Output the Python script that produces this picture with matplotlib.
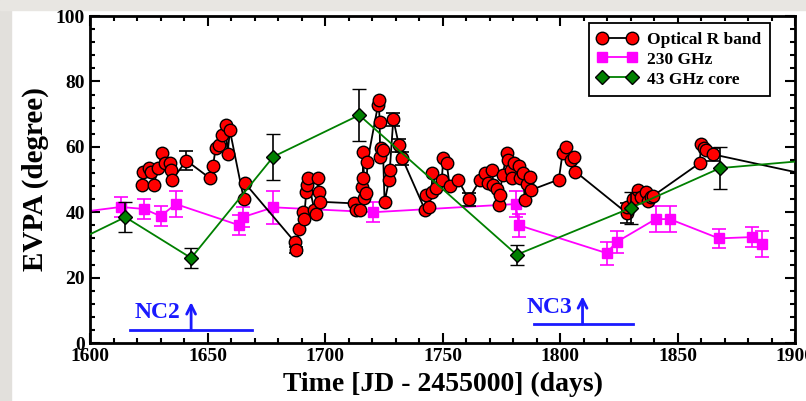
import numpy as np
import matplotlib
matplotlib.use('Agg')
import matplotlib.pyplot as plt
from matplotlib.ticker import MultipleLocator
from matplotlib.patches import Rectangle
from matplotlib.lines import Line2D

# Optical R band EVPA
opt_t = [1622, 1622.5, 1625, 1626, 1627, 1629, 1630.6, 1632, 1634, 1634.5, 1635,
         1641, 1651, 1652.3, 1653.4, 1654.8, 1656.3, 1657.7, 1658.5, 1659.5,
         1665.4, 1666, 1687, 1687.6, 1689, 1690.5, 1691, 1692, 1692.3, 1692.6,
         1695.4, 1696, 1697, 1697.5, 1698, 1712.5, 1713, 1714.7, 1715.7, 1716,
         1716.3, 1716.6, 1717.5, 1718, 1722.5, 1722.8, 1723.2, 1723.4, 1723.6,
         1724.6, 1725.3, 1727.2, 1727.5, 1729, 1731.4, 1732.8, 1742.5, 1743,
         1744, 1745.3, 1745.6, 1747, 1749.6, 1750.3, 1751.7, 1753, 1756.7,
         1761, 1766, 1768, 1769.5, 1771, 1771.6, 1773, 1773.8, 1774.2, 1775.5,
         1777.4, 1778, 1779, 1779.5, 1780.5, 1782.3, 1783, 1784, 1785, 1786,
         1787.3, 1787.6, 1799.4, 1801, 1802.6, 1804.4, 1805.8, 1806.5, 1828.4,
         1828.6, 1831, 1833, 1834.3, 1836.5, 1837.5, 1838.6, 1839.5, 1859.3,
         1860, 1861, 1862, 1865, 1905]
opt_evpa = [48.3, 52.4, 53.4, 52.4, 48.3, 53.4, 58, 55, 55, 52.8, 50,
            55.8, 50.4, 54, 59.5, 60.6, 63.6, 66.7, 57.8, 65,
            44, 48.8, 31, 28.4, 35, 40.2, 37.8, 46.3, 48.3, 50.4,
            40.7, 39.4, 50.4, 46.3, 43.2, 42.7, 40.7, 40.7, 47.8, 50.4,
            58.5, 44.2, 45.8, 55.5, 72.8, 74.3, 67.7, 57, 59.5,
            59, 43.2, 49.8, 52.9, 68.4, 60.5, 56.5, 40.7, 45.3,
            41.7, 46.3, 51.9, 47.5, 49.8, 56.5, 55, 48, 49.8,
            43.9, 50, 51.9, 49, 52.9, 48.3, 47, 42.2, 45.3, 51.5,
            58, 56, 53, 50.4, 55, 54, 50.4, 52, 43.7, 48.5,
            50.9, 46.8, 50, 58, 60, 56, 57, 52.4, 39.7,
            41.7, 44, 46.8, 44.7, 46.3, 43.5, 44.7, 45, 55,
            61, 59.5, 59, 57.7, 51.5]
# points that carry a visible error bar
opt_err_t = [1641, 1687.6, 1729, 1731.4, 1732.8, 1761, 1828.4, 1865]
opt_err_y = [55.8, 28.4, 68.4, 60.5, 56.5, 43.9, 39.7, 57.7]
opt_err = [3, 1, 2, 2, 2, 2, 3, 2]

# 230 GHz EVPA
mm_t = [1590, 1613, 1623, 1630, 1636.5, 1663.5, 1665, 1678, 1720.5, 1781,
        1782.5, 1819.7, 1824, 1840.6, 1846.6, 1867.5, 1881.6, 1886]
mm_evpa = [39.5, 41.6, 41, 38.8, 42.5, 36, 38.5, 41.5, 40, 42.5,
           36, 27.5, 30.9, 37.9, 37.9, 32, 32.4, 30.3]
mm_err = [3, 3, 3, 3, 4, 3, 3, 5, 3, 4, 3.5, 3.5, 3.5, 4, 4, 3, 3, 4]

# 43 GHz core EVPA
core_t = [1585, 1615, 1643, 1678, 1714.5, 1781.5, 1830, 1868, 1905]
core_evpa = [28, 38.5, 26, 57, 69.7, 27, 41.3, 53.5, 55.8]
core_err = [0, 4.5, 3, 7, 8, 3, 5, 6.5, 0]

# new components: label, ejection time, line range, height
nc_labels = ['NC2', 'NC3']
nc_time = [1643, 1809.5]
nc_lo = [1617, 1789]
nc_hi = [1669, 1831]
nc_y = [4, 5.8]


def main():
    plt.rcParams['font.family'] = ['Liberation Serif', 'DejaVu Serif']
    plt.rcParams['font.weight'] = 'bold'

    fig = plt.figure(figsize=(8.06, 4.01), dpi=100)
    fig.patches.append(Rectangle((0, 0), 0.014, 1, transform=fig.transFigure,
                                 color='#e2e0dc', zorder=-1))
    fig.patches.append(Rectangle((0, 0.975), 1, 0.025, transform=fig.transFigure,
                                 color='#e8e6e2', zorder=-1))
    ax = fig.add_axes([0.1117, 0.1446, 0.875, 0.8154])

    # 230 GHz
    ax.errorbar(mm_t, mm_evpa, yerr=mm_err, color='magenta', ecolor='magenta',
                marker='s', ms=6.5, mfc='magenta', mec='magenta', lw=1.3,
                elinewidth=1.2, capsize=5, capthick=1.2, zorder=2)

    # optical
    ax.errorbar(opt_err_t, opt_err_y, yerr=opt_err, fmt='none', ecolor='black',
                elinewidth=1.2, capsize=5, capthick=1.2, zorder=2.5)
    ax.plot(opt_t, opt_evpa, color='black', lw=1.3, marker='o', ms=9,
            mfc='red', mec='black', mew=1.0, zorder=3)

    # 43 GHz core
    ax.errorbar(core_t, core_evpa, yerr=core_err, color='green', ecolor='black',
                marker='D', ms=7.5, mfc='green', mec='black', mew=1.0, lw=1.3,
                elinewidth=1.2, capsize=5, capthick=1.2, zorder=4)

    for lab, t, lo, hi, y in zip(nc_labels, nc_time, nc_lo, nc_hi, nc_y):
        ax.plot([lo, hi], [y, y], color='#1a1aff', lw=2, zorder=5)
        ax.annotate('', xy=(t, y + 8.5), xytext=(t, y),
                    arrowprops=dict(arrowstyle='->', color='#1a1aff', lw=2,
                                    mutation_scale=16, shrinkA=0, shrinkB=0),
                    zorder=5)
        ax.text(t - 4.5, y + 2.0, lab, color='#1a1aff', fontsize=17,
                fontweight='bold', ha='right', va='bottom')

    ax.set_xlim(1600, 1900)
    ax.set_ylim(0, 100)
    ax.xaxis.set_major_locator(MultipleLocator(50))
    ax.xaxis.set_minor_locator(MultipleLocator(10))
    ax.yaxis.set_major_locator(MultipleLocator(20))
    ax.yaxis.set_minor_locator(MultipleLocator(4))
    ax.tick_params(which='both', direction='in', top=True, right=True,
                   labelsize=14, width=1.5)
    ax.tick_params(which='major', length=7)
    ax.tick_params(which='minor', length=3.5)
    for s in ax.spines.values():
        s.set_linewidth(2)

    ax.set_xlabel('Time [JD - 2455000] (days)', fontsize=20, fontweight='bold',
                  labelpad=5)
    ax.set_ylabel('EVPA (degree)', fontsize=21, fontweight='bold', labelpad=5)

    handles = [
        Line2D([], [], color='black', lw=1.3, marker='o', ms=9, mfc='red',
               mec='black', mew=1.0),
        Line2D([], [], color='magenta', lw=1.3, marker='s', ms=6.5,
               mfc='magenta', mec='magenta'),
        Line2D([], [], color='green', lw=1.3, marker='D', ms=7.5, mfc='green',
               mec='black', mew=1.0),
    ]
    labels = ['Optical R band', '230 GHz', '43 GHz core']
    leg = ax.legend(handles, labels, loc='upper right',
                    bbox_to_anchor=(0.976, 1.006), numpoints=2, fontsize=12.5,
                    handlelength=2.3, handletextpad=0.55, labelspacing=0.22,
                    borderpad=0.5, borderaxespad=0.5, fancybox=False,
                    framealpha=1, edgecolor='black')
    leg.get_frame().set_linewidth(1.3)
    leg.set_zorder(10)

    fig.savefig('out.png', dpi=100)


if __name__ == '__main__':
    main()
